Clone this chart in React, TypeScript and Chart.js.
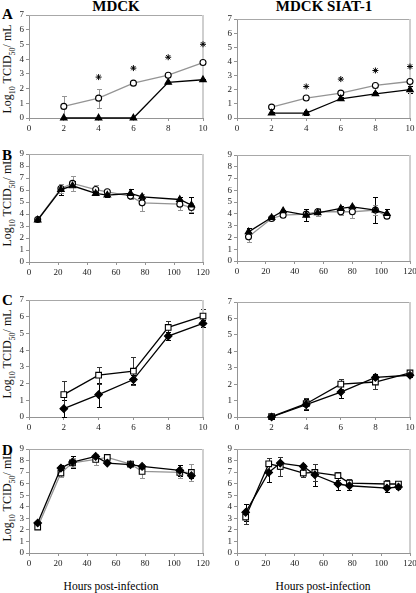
import React, { useEffect, useRef } from 'react';
import { Chart, registerables } from 'chart.js';

Chart.register(...registerables);

const SERIF = '"Liberation Serif", "Times New Roman", serif';

// ---------- Data ----------
// Panel A (hours 2–10)
const hoursA = [2, 4, 6, 8, 10];
const starHoursA = [4, 6, 8, 10];
const aMdckCircle = [0.79, 1.35, 2.37, 2.91, 3.77];
const aMdckCircleErr = [0.72, 0.65, 0, 0, 0.08];
const aMdckTriangle = [0, 0, 0, 2.42, 2.6];
const aMdckTriangleErr = [0, 0, 0, 0.05, 0.08];
const aMdckStar = [2.78, 3.39, 4.13, 5.01];

const aSiatCircle = [0.77, 1.41, 1.76, 2.3, 2.58];
const aSiatCircleErr = [0.05, 0.05, 0.1, 0.08, 0.1];
const aSiatTriangle = [0.35, 0.35, 1.36, 1.71, 2.0];
const aSiatTriangleErr = [0.05, 0.12, 0.12, 0.1, 0.25];
const aSiatStar = [2.23, 2.75, 3.36, 3.64];

// Panel B (hours 0–120)
const hoursBMdck = [6, 22, 30, 46, 54, 70, 78, 104, 112];
const bMdckCircle = [3.54, 6.13, 6.55, 6.04, 5.85, 5.49, 4.93, 4.82, 4.54];
const bMdckCircleErr = [0.1, 0.35, 0.65, 0.35, 0.1, 0.2, 0.7, 0.45, 0.35];
const bMdckTriangle = [3.5, 6.04, 6.35, 5.71, 5.57, 5.71, 5.43, 5.21, 4.74];
const bMdckTriangleErr = [0.1, 0.45, 0.4, 0.15, 0.15, 0.4, 0.2, 0.2, 0.65];

const hoursBSiat = [8, 24, 32, 48, 56, 72, 80, 96, 104];
const bSiatCircle = [2.05, 3.61, 3.89, 3.98, 4.18, 4.18, 4.18, 4.32, 3.81];
const bSiatCircleErr = [0.4, 0.1, 0.1, 0.2, 0.35, 0.3, 0.55, 0.4, 0.2];
const bSiatTriangle = [2.47, 3.69, 4.26, 3.89, 4.09, 4.46, 4.6, 4.32, 4.03];
const bSiatTriangleErr = [0.3, 0.1, 0.1, 0.5, 0.3, 0.2, 0.15, 1.1, 0.4];

// Panel C (hours 2–10)
const hoursC = [2, 4, 6, 8, 10];
const cMdckSquare = [1.34, 2.5, 2.74, 5.36, 6.04];
const cMdckSquareErr = [0.8, 0.5, 0.82, 0.38, 0.42];
const cMdckDiamond = [0.5, 1.34, 2.24, 4.84, 5.6];
const cMdckDiamondErr = [0.5, 0.72, 0.28, 0.22, 0.22];

const cSiatSquare = [0.02, 0.81, 2.0, 2.13, 2.68];
const cSiatSquareErr = [0.05, 0.35, 0.3, 0.45, 0.15];
const cSiatDiamond = [0, 0.75, 1.52, 2.41, 2.54];
const cSiatDiamondErr = [0.05, 0.35, 0.38, 0.2, 0.12];

// Panel D (hours 0–120)
const hoursD = [6, 22, 30, 46, 54, 70, 78, 104, 112];
const dMdckSquare = [2.25, 6.92, 7.8, 8.1, 8.27, 7.7, 7.06, 6.97, 6.97];
const dMdckSquareErr = [0.15, 0.35, 0.4, 0.5, 0.1, 0.15, 0.6, 0.5, 0.75];
const dMdckDiamond = [2.6, 7.35, 7.87, 8.36, 7.78, 7.64, 7.49, 7.15, 6.69];
const dMdckDiamondErr = [0.1, 0.25, 0.5, 0.25, 0.1, 0.15, 0.25, 0.5, 0.2];

const dSiatSquare = [3.11, 7.72, 7.49, 6.92, 6.97, 6.69, 6.05, 5.97, 5.97];
const dSiatSquareErr = [0.6, 0.5, 0.8, 0.35, 0.75, 0.35, 0.35, 0.35, 0.2];
const dSiatDiamond = [3.52, 6.97, 7.78, 7.49, 6.77, 5.97, 5.82, 5.62, 5.71];
const dSiatDiamondErr = [0.75, 0.8, 0.5, 0.2, 0.95, 0.5, 0.35, 0.3, 0.15];

// Axis tick settings
const shortHoursMax = 10;
const shortHoursStep = 2;
const longHoursMax = 120;
const longHoursStep = 20;
const titerMaxAC = 7;
const titerMaxBD = 9;

// ---------- Styles ----------
const GRAY = '#949494';
const BLACK = '#000';

type Series = {
  xs: number[];
  ys: number[];
  errs?: number[];
  style: string;
  radius: number;
  fill: string;
  line: string;
  showLine: boolean;
  errColor?: string;
};

const circle = (xs: number[], ys: number[], errs: number[]): Series => ({
  xs, ys, errs, style: 'circle', radius: 3, fill: '#fff', line: GRAY, showLine: true, errColor: GRAY,
});
const triangle = (xs: number[], ys: number[], errs: number[]): Series => ({
  xs, ys, errs, style: 'triangle', radius: 3.8, fill: '#000', line: BLACK, showLine: true, errColor: BLACK,
});
const square = (xs: number[], ys: number[], errs: number[], line = BLACK): Series => ({
  xs, ys, errs, style: 'rect', radius: 4, fill: '#fff', line, showLine: true, errColor: line === BLACK ? '#333' : GRAY,
});
const diamond = (xs: number[], ys: number[], errs: number[]): Series => ({
  xs, ys, errs, style: 'rectRot', radius: 3.8, fill: '#000', line: BLACK, showLine: true, errColor: BLACK,
});
const stars = (xs: number[], ys: number[]): Series => ({
  xs, ys, style: 'star', radius: 3, fill: '#000', line: BLACK, showLine: false,
});

const errorBars = {
  id: 'errorBars',
  beforeDatasetsDraw(chart: any) {
    const { ctx } = chart;
    const xs = chart.scales.x;
    const ys = chart.scales.y;
    chart.data.datasets.forEach((ds: any) => {
      if (!ds.errs) return;
      ctx.save();
      ctx.strokeStyle = ds.errColor || '#000';
      ctx.lineWidth = 1;
      ds.data.forEach((p: any, j: number) => {
        const e = ds.errs[j];
        if (!e) return;
        const px = Math.round(xs.getPixelForValue(p.x)) + 0.5;
        const top = Math.round(ys.getPixelForValue(p.y + e)) + 0.5;
        const bot = Math.round(ys.getPixelForValue(Math.max(0, p.y - e))) + 0.5;
        ctx.beginPath();
        ctx.moveTo(px, top);
        ctx.lineTo(px, bot);
        ctx.moveTo(px - 2.5, top);
        ctx.lineTo(px + 2.5, top);
        ctx.moveTo(px - 2.5, bot);
        ctx.lineTo(px + 2.5, bot);
        ctx.stroke();
      });
      ctx.restore();
    });
  },
};

const frame = {
  id: 'frame',
  beforeDatasetsDraw(chart: any) {
    const { ctx, chartArea: a } = chart;
    ctx.save();
    ctx.strokeStyle = '#a8a8a8';
    ctx.lineWidth = 1;
    ctx.beginPath();
    ctx.moveTo(a.left, Math.round(a.top) + 0.5);
    ctx.lineTo(a.right, Math.round(a.top) + 0.5);
    ctx.stroke();
    ctx.strokeStyle = '#cfcfcf';
    ctx.lineWidth = 2;
    ctx.beginPath();
    ctx.moveTo(Math.round(a.right), a.top);
    ctx.lineTo(Math.round(a.right), a.bottom);
    ctx.stroke();
    ctx.restore();
  },
};

const PT = 8;
const PR = 10;
const YW = 16;
const XH = 18;

type Box = { l: number; r: number; t: number; b: number };

function Panel({ box, xMax, xStep, yMax, series }: { box: Box; xMax: number; xStep: number; yMax: number; series: Series[] }) {
  const ref = useRef<HTMLCanvasElement>(null);
  const w = box.r - box.l + YW + PR;
  const h = box.b - box.t + PT + XH;
  useEffect(() => {
    if (!ref.current) return;
    const tickFont = { family: SERIF, size: 9 };
    const chart = new Chart(ref.current, {
      type: 'scatter',
      data: {
        datasets: series.map((s) => ({
          data: s.xs.map((x, i) => ({ x, y: s.ys[i] })),
          errs: s.errs,
          errColor: s.errColor,
          showLine: s.showLine,
          borderColor: s.line,
          borderWidth: 1.3,
          pointStyle: s.style,
          pointRadius: s.radius,
          pointBackgroundColor: s.fill,
          pointBorderColor: '#000',
          pointBorderWidth: s.style === 'star' ? 1 : 1.1,
          clip: false,
          tension: 0,
        })) as any,
      },
      options: {
        responsive: false,
        animation: false,
        devicePixelRatio: 1,
        layout: { padding: { top: PT, right: PR, left: 0, bottom: 0 } },
        plugins: { legend: { display: false }, tooltip: { enabled: false } },
        scales: {
          x: {
            type: 'linear',
            min: 0,
            max: xMax,
            ticks: { stepSize: xStep, font: tickFont, color: '#222', padding: 2, maxRotation: 0, autoSkip: false },
            grid: { drawOnChartArea: false, tickLength: 3, color: GRAY },
            border: { color: GRAY },
            afterFit: (s: any) => {
              s.height = XH;
              s.paddingLeft = 0;
              s.paddingRight = 0;
            },
          },
          y: {
            type: 'linear',
            min: 0,
            max: yMax,
            ticks: { stepSize: 1, font: tickFont, color: '#222', padding: 2, autoSkip: false },
            grid: { drawOnChartArea: false, tickLength: 3, color: GRAY },
            border: { color: GRAY },
            afterFit: (s: any) => {
              s.width = YW;
              s.paddingTop = 0;
              s.paddingBottom = 0;
            },
          },
        },
      } as any,
      plugins: [errorBars, frame],
    });
    return () => chart.destroy();
  }, []);
  return (
    <canvas
      ref={ref}
      width={w}
      height={h}
      style={{ position: 'absolute', left: box.l - YW, top: box.t - PT, width: w, height: h }}
    />
  );
}

function YTitle({ cy }: { cy: number }) {
  return (
    <div
      style={{
        position: 'absolute',
        left: 10,
        top: cy,
        transform: 'translate(-50%, -50%) rotate(-90deg)',
        whiteSpace: 'nowrap',
        fontFamily: SERIF,
        fontSize: 12,
        lineHeight: '12px',
        color: '#111',
      }}
    >
      Log<sub style={{ fontSize: 8 }}>10</sub> TCID<sub style={{ fontSize: 8 }}>50</sub>/ mL
    </div>
  );
}

function Text({ x, y, children, size, bold, center }: any) {
  return (
    <div
      style={{
        position: 'absolute',
        left: x,
        top: y,
        transform: center ? 'translateX(-50%)' : undefined,
        whiteSpace: 'nowrap',
        fontFamily: SERIF,
        fontSize: size,
        fontWeight: bold ? 'bold' : 'normal',
        lineHeight: 1,
        color: '#000',
      }}
    >
      {children}
    </div>
  );
}

export default function App() {
  return (
    <div style={{ position: 'absolute', left: 0, top: 0, width: 416, height: 593, background: '#fff', overflow: 'hidden' }}>
      <Text x={116} y={-1} size={15} bold center>MDCK</Text>
      <Text x={324} y={-1} size={15} bold center>MDCK SIAT-1</Text>

      <Text x={2} y={7} size={15} bold>A</Text>
      <Text x={2} y={148} size={15} bold>B</Text>
      <Text x={2} y={293} size={15} bold>C</Text>
      <Text x={2} y={443} size={15} bold>D</Text>

      <YTitle cy={69} />
      <YTitle cy={202} />
      <YTitle cy={354} />
      <YTitle cy={497} />

      <Panel
        box={{ l: 29, r: 203, t: 15, b: 118 }}
        xMax={shortHoursMax}
        xStep={shortHoursStep}
        yMax={titerMaxAC}
        series={[
          triangle(hoursA, aMdckTriangle, aMdckTriangleErr),
          circle(hoursA, aMdckCircle, aMdckCircleErr),
          stars(starHoursA, aMdckStar),
        ]}
      />
      <Panel
        box={{ l: 237, r: 410, t: 19, b: 118 }}
        xMax={shortHoursMax}
        xStep={shortHoursStep}
        yMax={titerMaxAC}
        series={[
          triangle(hoursA, aSiatTriangle, aSiatTriangleErr),
          circle(hoursA, aSiatCircle, aSiatCircleErr),
          stars(starHoursA, aSiatStar),
        ]}
      />
      <Panel
        box={{ l: 29, r: 203, t: 154, b: 262 }}
        xMax={longHoursMax}
        xStep={longHoursStep}
        yMax={titerMaxBD}
        series={[
          triangle(hoursBMdck, bMdckTriangle, bMdckTriangleErr),
          circle(hoursBMdck, bMdckCircle, bMdckCircleErr),
        ]}
      />
      <Panel
        box={{ l: 237, r: 410, t: 155, b: 261 }}
        xMax={longHoursMax}
        xStep={longHoursStep}
        yMax={titerMaxBD}
        series={[
          triangle(hoursBSiat, bSiatTriangle, bSiatTriangleErr),
          circle(hoursBSiat, bSiatCircle, bSiatCircleErr),
        ]}
      />
      <Panel
        box={{ l: 29, r: 203, t: 300, b: 417 }}
        xMax={shortHoursMax}
        xStep={shortHoursStep}
        yMax={titerMaxAC}
        series={[
          diamond(hoursC, cMdckDiamond, cMdckDiamondErr),
          square(hoursC, cMdckSquare, cMdckSquareErr),
        ]}
      />
      <Panel
        box={{ l: 237, r: 410, t: 302, b: 417 }}
        xMax={shortHoursMax}
        xStep={shortHoursStep}
        yMax={titerMaxAC}
        series={[
          diamond(hoursC, cSiatDiamond, cSiatDiamondErr),
          square(hoursC, cSiatSquare, cSiatSquareErr),
        ]}
      />
      <Panel
        box={{ l: 29, r: 203, t: 449, b: 553 }}
        xMax={longHoursMax}
        xStep={longHoursStep}
        yMax={titerMaxBD}
        series={[
          diamond(hoursD, dMdckDiamond, dMdckDiamondErr),
          square(hoursD, dMdckSquare, dMdckSquareErr, GRAY),
        ]}
      />
      <Panel
        box={{ l: 237, r: 410, t: 449, b: 553 }}
        xMax={longHoursMax}
        xStep={longHoursStep}
        yMax={titerMaxBD}
        series={[
          diamond(hoursD, dSiatDiamond, dSiatDiamondErr),
          square(hoursD, dSiatSquare, dSiatSquareErr),
        ]}
      />

      <Text x={111} y={581} size={11.5} center>Hours post-infection</Text>
      <Text x={323} y={581} size={11.5} center>Hours post-infection</Text>
    </div>
  );
}
